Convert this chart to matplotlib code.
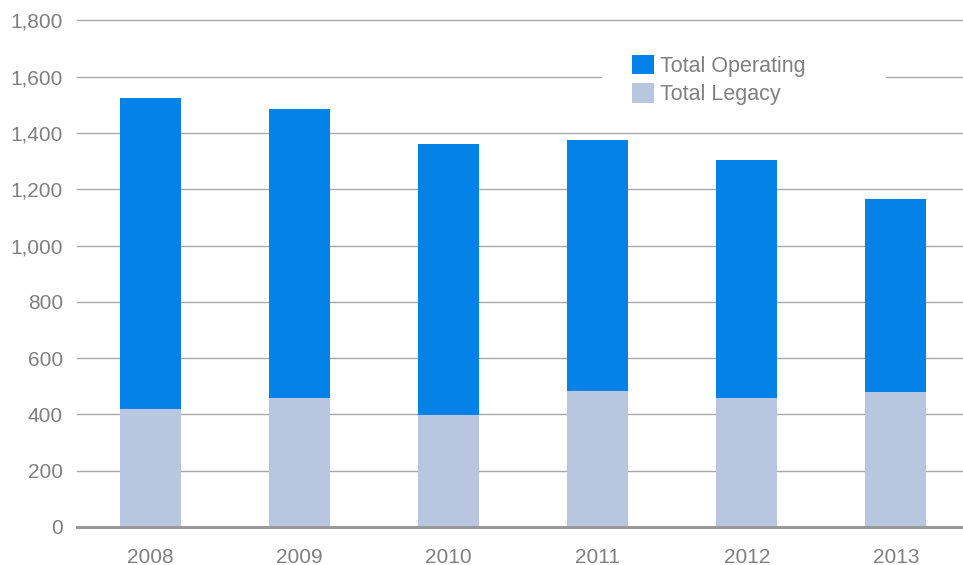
import matplotlib
matplotlib.use("Agg")
import matplotlib.pyplot as plt
from matplotlib.patches import Rectangle

# data
years = ["2008", "2009", "2010", "2011", "2012", "2013"]
legacy = [419, 458, 398, 483, 458, 479]
operating = [1107, 1026, 962, 891, 848, 685]
yticks = [0, 200, 400, 600, 800, 1000, 1200, 1400, 1600, 1800]
ytick_labels = ["0", "200", "400", "600", "800", "1,000", "1,200", "1,400", "1,600", "1,800"]

blue = "#0582e8"
light = "#b8c7df"
grey_txt = "#808080"

plt.rcParams["font.family"] = ["Liberation Sans", "DejaVu Sans"]

fig = plt.figure(figsize=(9.63, 5.65), dpi=100)
ax = fig.add_axes([77 / 963, 38 / 565, 886 / 963, (527 - 20.5) / 565])

x = list(range(len(years)))
w = 0.41
ax.bar(x, legacy, width=w, color=light, label="Total Legacy", zorder=2)
ax.bar(x, operating, width=w, bottom=legacy, color=blue, label="Total Operating", zorder=2)

ax.set_xlim(-0.49, 5.45)
ax.set_ylim(0, 1800)
ax.set_yticks(yticks)
ax.set_yticklabels(ytick_labels)
ax.set_xticks(x)
ax.set_xticklabels(years)
ax.tick_params(axis="both", length=0, labelsize=15, colors=grey_txt)
ax.tick_params(axis="y", pad=10)
ax.tick_params(axis="x", pad=15)

for s in ["top", "right", "left"]:
    ax.spines[s].set_visible(False)
ax.spines["bottom"].set_color("#999999")
ax.spines["bottom"].set_linewidth(2.2)
ax.spines["bottom"].set_zorder(3)

ax.yaxis.grid(True, color="#a8a8a8", linewidth=1.0, clip_on=False)
ax.set_axisbelow(True)

# white patch behind the legend hides the grid line
ax.add_patch(Rectangle((602 / 963, 1 - 115 / 565), (886 - 602) / 963, 70 / 565,
                       transform=fig.transFigure, facecolor="white", edgecolor="none", zorder=1.5))

handles, labels = ax.get_legend_handles_labels()
leg = ax.legend(handles[::-1], labels[::-1], loc="upper left",
                bbox_to_anchor=(632 / 963, 1 - 55 / 565), bbox_transform=fig.transFigure,
                frameon=False, fontsize=15.5, handlelength=1.0, handleheight=1.0,
                handletextpad=0.3, labelspacing=0.3, borderpad=0, borderaxespad=0)
for t in leg.get_texts():
    t.set_color(grey_txt)

fig.savefig("out.png", dpi=100)
